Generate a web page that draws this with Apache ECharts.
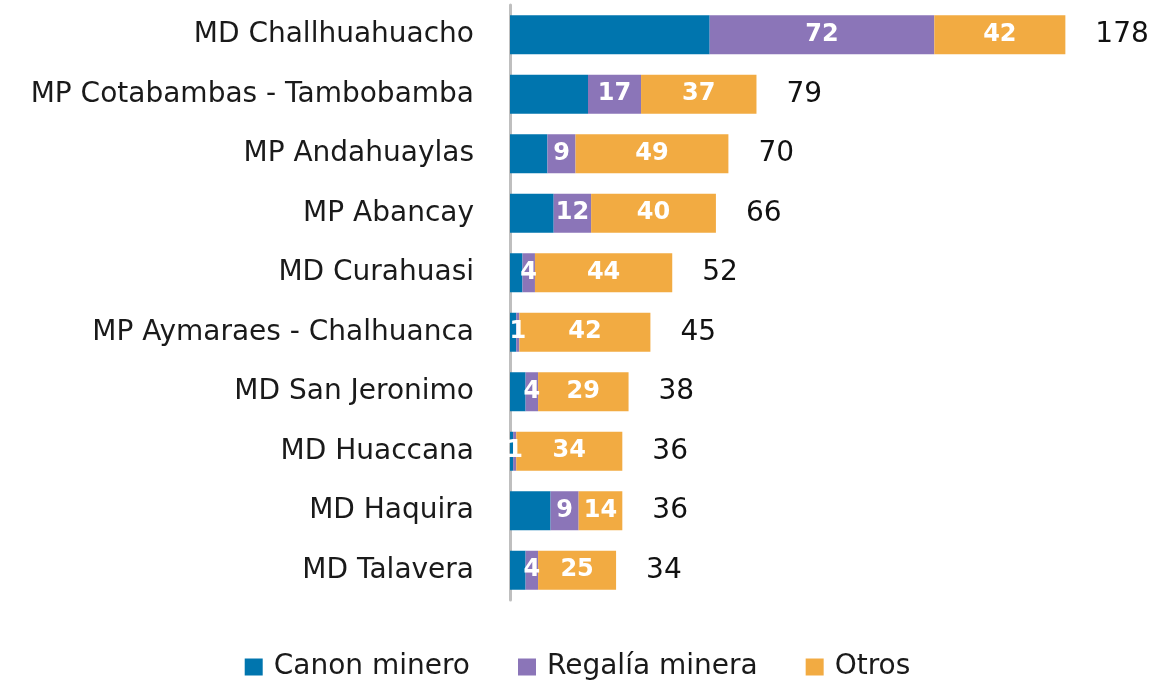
<!DOCTYPE html>
<html><head><meta charset="utf-8">
<script src="https://cdn.jsdelivr.net/npm/echarts@6/dist/echarts.min.js"></script>
<style>html,body{margin:0;padding:0;background:#fff}#c{width:1155px;height:681px}</style>
</head><body><div id="c"></div>
<script>
const categories = ["MD Challhuahuacho","MP Cotabambas - Tambobamba","MP Andahuaylas","MP Abancay","MD Curahuasi","MP Aymaraes - Chalhuanca","MD San Jeronimo","MD Huaccana","MD Haquira","MD Talavera"];
const canon = [64,25,12,14,4,2,5,1,13,5];
const regalia = [72,17,9,12,4,1,4,1,9,4];
const otros = [42,37,49,40,44,42,29,34,14,25];
const totals = [178,79,70,66,52,45,38,36,36,34];

const font = "DejaVu Sans";
const chart = echarts.init(document.getElementById('c'));
const inLabel = {show:true, color:'#fff', fontWeight:'bold', fontSize:24, fontFamily:font, position:'inside'};
chart.setOption({
  animation:false,
  grid:{left:510, top:5, width:624, height:595, containLabel:false},
  legend:{top:648, left:'center', itemWidth:18, itemHeight:17, itemGap:48, icon:'rect',
    textStyle:{fontSize:28, fontFamily:font, color:'#1a1a1a', padding:[0,0,0,6]},
    data:['Canon minero','Regalía minera','Otros']},
  xAxis:{type:'value', min:0, max:200, show:false},
  yAxis:{type:'category', data:categories, inverse:true,
    axisLine:{show:true, lineStyle:{color:'#bfbfbf', width:3}},
    axisTick:{show:false},
    axisLabel:{fontSize:28, fontFamily:font, color:'#1a1a1a', margin:36}},
  series:[
    {name:'Canon minero', type:'bar', stack:'s', data:canon, barWidth:39, itemStyle:{color:'#0075ae'}},
    {name:'Regalía minera', type:'bar', stack:'s', data:regalia, itemStyle:{color:'#8b75b8'}, label:inLabel},
    {name:'Otros', type:'bar', stack:'s', data:otros, itemStyle:{color:'#f2ab42'}, label:inLabel},
    {name:'Total', type:'bar', stack:'s', data:totals.map(()=>0), silent:true, itemStyle:{color:'transparent'},
      label:{show:true, position:'right', distance:30, fontSize:28, fontFamily:font, color:'#111',
        formatter:p=>String(totals[p.dataIndex])}}
  ]
});
</script></body></html>
